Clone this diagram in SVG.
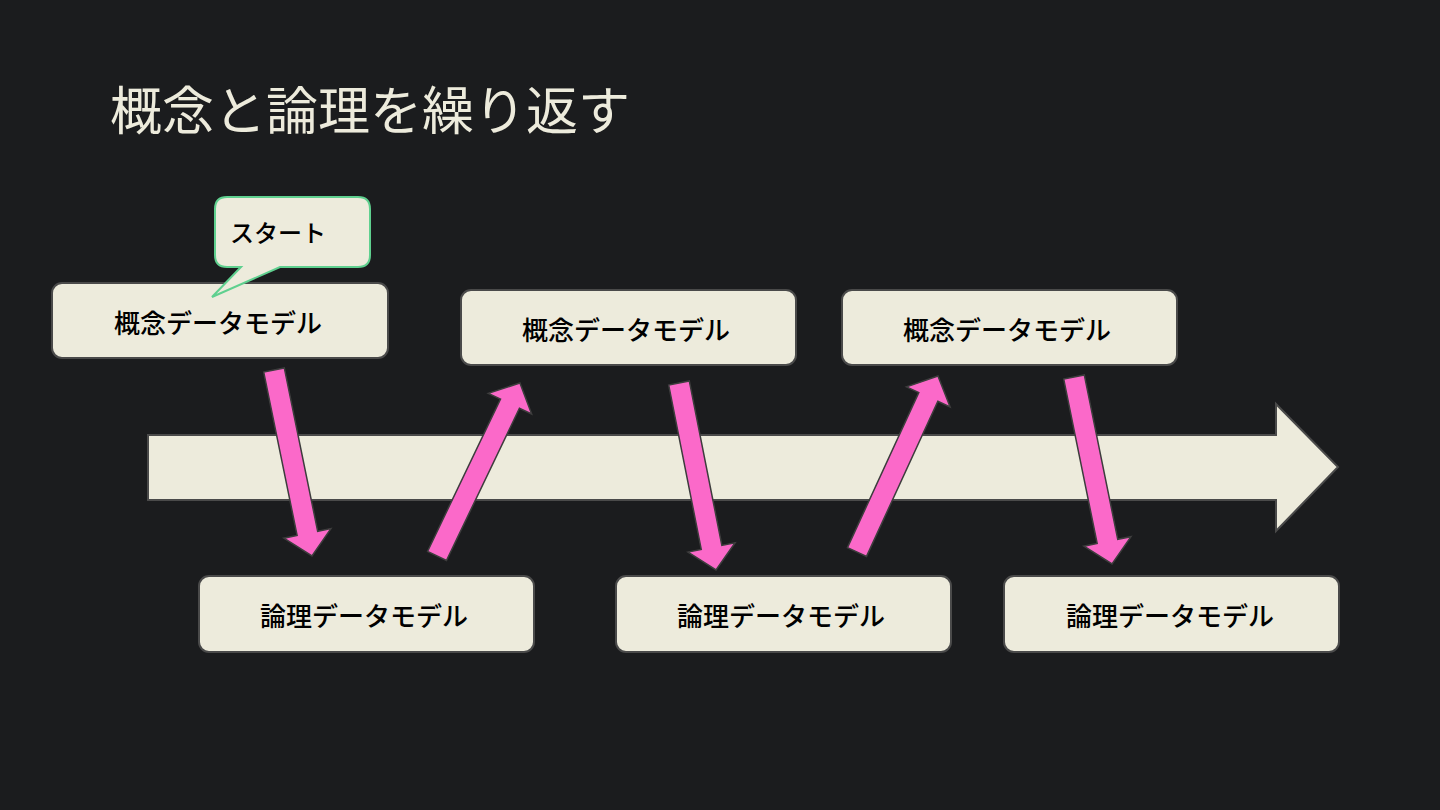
<svg xmlns="http://www.w3.org/2000/svg" width="1440" height="810" viewBox="0 0 1440 810">
<defs>
<style>
.bg{fill:#1b1c1e}
.box{fill:#edebdc;stroke:#4a4a4a;stroke-width:2}
.lbl{font-family:"Noto Sans CJK JP","Noto Sans",sans-serif;font-size:26px;font-weight:500;fill:#000;text-anchor:middle;dominant-baseline:central}
.title{font-family:"Noto Sans CJK JP","Noto Sans",sans-serif;font-size:52px;fill:#edebdc}
.pink{fill:#fb69c9;stroke:#3d3d3d;stroke-width:1.5;stroke-linejoin:miter}
.big{fill:#edebdc;stroke:#4a4a4a;stroke-width:2}
.bubble{fill:#edebdc;stroke:#5fd08f;stroke-width:2}
</style>
</defs>
<rect class="bg" x="0" y="0" width="1440" height="810"/>
<text class="title" x="110" y="130">概念と論理を繰り返す</text>
<g id="timeline">
<polygon class="big" points="148,435 1276,435 1276,404 1338,467 1276,531 1276,500 148,500"/>
</g>
<g id="connectors">
<polygon class="pink" transform="translate(274,370) rotate(78.45)" points="0,-10.5 166.8,-10.5 166.8,-24 189.8,0 166.8,24 166.8,10.5 0,10.5"/>
<polygon class="pink" transform="translate(437,556) rotate(-64.4)" points="0,-10.5 168.9,-10.5 168.9,-24 191.9,0 168.9,24 168.9,10.5 0,10.5"/>
<polygon class="pink" transform="translate(679,383) rotate(78.8)" points="0,-10.5 167.6,-10.5 167.6,-24 190.6,0 167.6,24 167.6,10.5 0,10.5"/>
<polygon class="pink" transform="translate(857,552) rotate(-65.3)" points="0,-10.5 170.7,-10.5 170.7,-24 193.7,0 170.7,24 170.7,10.5 0,10.5"/>
<polygon class="pink" transform="translate(1074,377) rotate(78.5)" points="0,-10.5 167.8,-10.5 167.8,-24 190.8,0 167.8,24 167.8,10.5 0,10.5"/>
</g>
<g id="c1">
<rect class="box" x="52" y="283" width="336" height="75" rx="10"/>
<text class="lbl" x="218" y="321">概念データモデル</text>
</g>
<g id="start">
<path class="bubble" d="M227,197 H358 Q370,197 370,209 V255 Q370,267 358,267 H280 L212,297 L241,267 H227 Q215,267 215,255 V209 Q215,197 227,197 Z"/>
<text class="lbl" x="278" y="231" style="font-size:24px">スタート</text>
</g>
<g id="c2">
<rect class="box" x="461" y="290" width="335" height="75" rx="10"/>
<text class="lbl" x="626" y="328">概念データモデル</text>
</g>
<g id="c3">
<rect class="box" x="842" y="290" width="335" height="75" rx="10"/>
<text class="lbl" x="1007" y="328">概念データモデル</text>
</g>
<g id="l1">
<rect class="box" x="199" y="576" width="335" height="76" rx="10"/>
<text class="lbl" x="364" y="614">論理データモデル</text>
</g>
<g id="l2">
<rect class="box" x="616" y="576" width="335" height="76" rx="10"/>
<text class="lbl" x="781" y="614">論理データモデル</text>
</g>
<g id="l3">
<rect class="box" x="1004" y="576" width="335" height="76" rx="10"/>
<text class="lbl" x="1170" y="614">論理データモデル</text>
</g>
</svg>
